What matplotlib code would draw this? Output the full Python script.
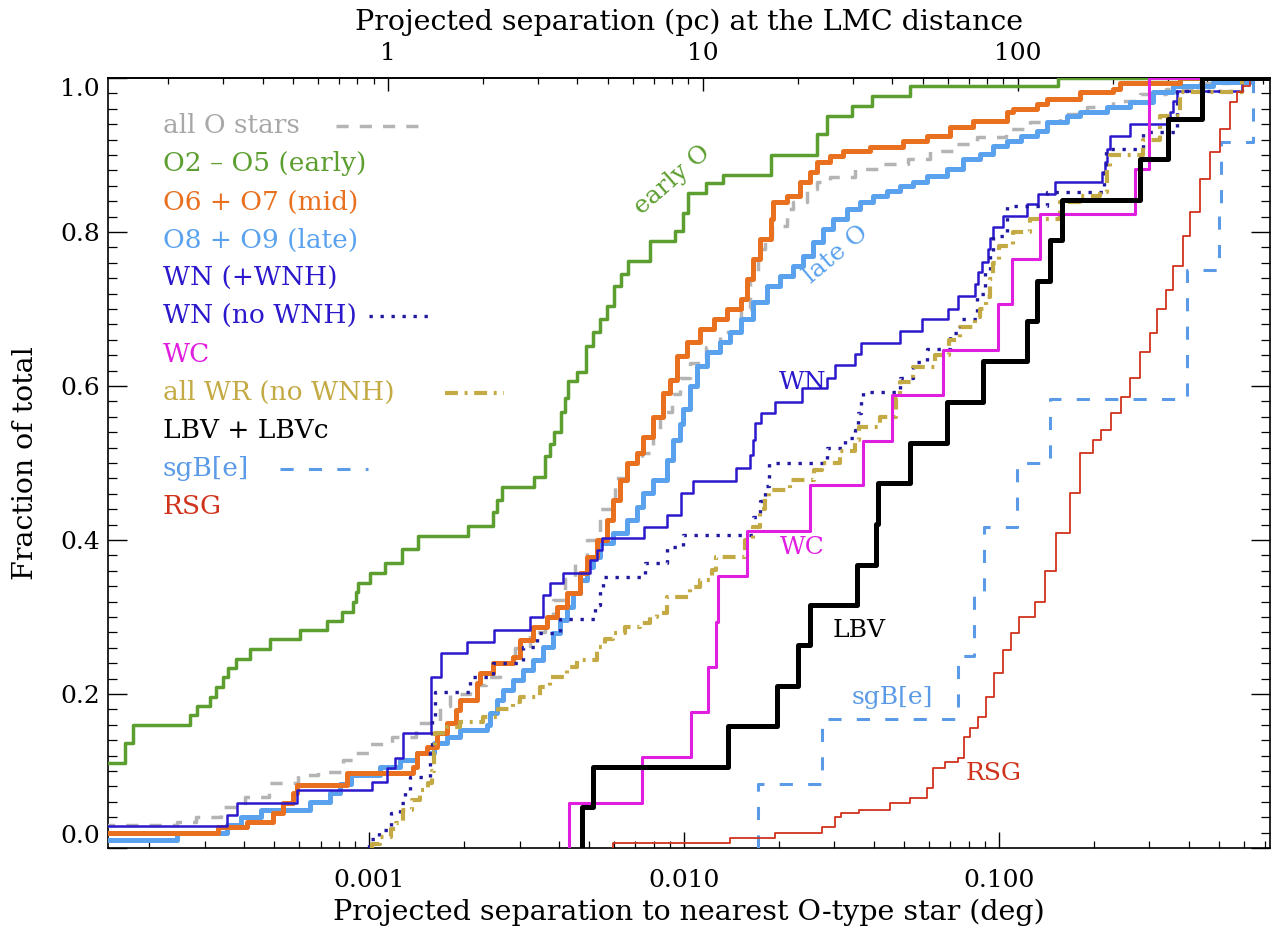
import numpy as np
import matplotlib.pyplot as plt
from matplotlib.ticker import FixedLocator, NullFormatter, FuncFormatter

plt.rcParams['font.family'] = ['DejaVu Serif']

# separation to nearest O star (deg) and cumulative fraction, per class
all_o_sep = [1.2e-4, 2.46e-4, 2.82e-4, 3.37e-4, 4.04e-4, 4.81e-4, 5.95e-4, 6.89e-4, 8.27e-4, 9.03e-4,
             1.007e-3, 1.18e-3, 1.41e-3, 1.68e-3, 1.81e-3, 2.09e-3, 2.34e-3, 2.61e-3, 2.91e-3, 3.24e-3,
             3.62e-3, 3.84e-3, 4.19e-3, 4.51e-3, 4.92e-3, 5.41e-3, 6.04e-3, 6.64e-3, 7.36e-3, 7.97e-3,
             8.39e-3, 9.16e-3, 9.71e-3, 1.04e-2, 1.17e-2, 1.30e-2, 1.51e-2, 1.62e-2, 1.71e-2, 1.81e-2,
             1.90e-2, 2.12e-2, 2.22e-2, 2.46e-2, 2.64e-2, 2.91e-2, 3.49e-2, 4.19e-2, 5.14e-2, 6.04e-2,
             7.14e-2, 8.51e-2, 0.105, 0.125, 0.156, 0.190, 0.230, 0.280, 0.339, 0.435, 0.541]
all_o_frac = [0.030, 0.034, 0.040, 0.053, 0.066, 0.084, 0.095, 0.099, 0.114, 0.123,
              0.135, 0.144, 0.162, 0.185, 0.200, 0.212, 0.222, 0.240, 0.260, 0.280,
              0.300, 0.322, 0.350, 0.370, 0.400, 0.440, 0.480, 0.500, 0.513, 0.540,
              0.566, 0.590, 0.610, 0.630, 0.650, 0.670, 0.700, 0.740, 0.778, 0.795,
              0.808, 0.830, 0.839, 0.856, 0.865, 0.871, 0.882, 0.888, 0.895, 0.905,
              0.914, 0.923, 0.934, 0.943, 0.953, 0.962, 0.970, 0.979, 0.986, 0.993, 1.0]

early_sep = [1.2e-4, 1.68e-4, 1.78e-4, 2.70e-4, 2.84e-4, 3.13e-4, 3.27e-4, 3.42e-4, 3.57e-4, 3.76e-4,
             4.19e-4, 4.85e-4, 6.04e-4, 7.36e-4, 8.21e-4, 8.89e-4, 9.10e-4, 9.23e-4, 1.007e-3, 1.12e-3,
             1.27e-3, 1.43e-3, 2.06e-3, 2.48e-3, 2.55e-3, 2.64e-3, 3.34e-3, 3.62e-3, 3.76e-3, 3.87e-3,
             4.07e-3, 4.19e-3, 4.28e-3, 4.57e-3, 4.89e-3, 5.14e-3, 5.41e-3, 5.70e-3, 6.00e-3, 6.31e-3,
             6.64e-3, 7.80e-3, 9.36e-3, 9.93e-3, 1.03e-2, 1.17e-2, 1.33e-2, 1.88e-2, 2.64e-2, 2.84e-2,
             3.42e-2, 3.95e-2, 5.22e-2, 0.154]
early_frac = [0.110, 0.136, 0.160, 0.173, 0.184, 0.196, 0.209, 0.222, 0.234, 0.245,
              0.258, 0.271, 0.283, 0.295, 0.306, 0.319, 0.332, 0.344, 0.357, 0.370,
              0.388, 0.405, 0.418, 0.436, 0.452, 0.469, 0.482, 0.509, 0.525, 0.540,
              0.566, 0.585, 0.606, 0.618, 0.652, 0.670, 0.687, 0.704, 0.730, 0.745,
              0.762, 0.788, 0.801, 0.825, 0.851, 0.864, 0.874, 0.900, 0.927, 0.950,
              0.964, 0.977, 0.990, 1.0]

mid_sep = [1.2e-4, 3.32e-4, 4.10e-4, 4.96e-4, 5.33e-4, 5.74e-4, 5.91e-4, 8.51e-4,
           1.38e-3, 1.42e-3, 1.53e-3, 1.64e-3, 1.77e-3, 1.88e-3, 1.94e-3, 2.20e-3, 2.25e-3, 2.48e-3,
           2.87e-3, 3.02e-3, 3.32e-3, 3.67e-3, 3.95e-3, 4.25e-3, 4.68e-3, 4.92e-3, 5.29e-3, 5.70e-3,
           5.95e-3, 6.26e-3, 6.59e-3, 7.09e-3, 7.41e-3, 7.97e-3, 8.58e-3, 9.03e-3, 9.50e-3, 1.02e-2,
           1.12e-2, 1.24e-2, 1.37e-2, 1.51e-2, 1.58e-2, 1.66e-2, 1.74e-2, 1.88e-2, 1.92e-2, 2.12e-2,
           2.34e-2, 2.51e-2, 2.64e-2, 2.91e-2, 3.20e-2, 3.89e-2, 4.96e-2, 5.91e-2, 6.99e-2, 8.27e-2,
           0.106, 0.111, 0.132, 0.142, 0.181, 0.230, 0.242, 0.376]
mid_frac = [0.019, 0.027, 0.034, 0.045, 0.058, 0.071, 0.082, 0.097,
            0.105, 0.123, 0.131, 0.149, 0.162, 0.179, 0.192, 0.214, 0.227, 0.240,
            0.248, 0.270, 0.287, 0.300, 0.313, 0.331, 0.357, 0.378, 0.400, 0.426,
            0.452, 0.478, 0.500, 0.513, 0.534, 0.560, 0.591, 0.608, 0.639, 0.657,
            0.674, 0.687, 0.700, 0.713, 0.739, 0.765, 0.791, 0.817, 0.839, 0.847,
            0.865, 0.878, 0.891, 0.899, 0.905, 0.910, 0.918, 0.925, 0.936, 0.944,
            0.956, 0.960, 0.966, 0.973, 0.982, 0.986, 0.994, 1.0]

late_sep = [1.2e-4, 2.46e-4, 3.54e-4, 3.92e-4, 4.54e-4, 6.50e-4, 7.52e-4, 8.09e-4, 8.77e-4, 1.08e-3,
            1.25e-3, 1.42e-3, 1.60e-3, 1.77e-3, 1.94e-3, 2.37e-3, 2.42e-3, 2.55e-3, 2.66e-3, 2.87e-3,
            3.08e-3, 3.32e-3, 3.57e-3, 3.84e-3, 4.04e-3, 4.25e-3, 4.44e-3, 4.68e-3, 4.92e-3, 5.14e-3,
            5.41e-3, 5.95e-3, 6.59e-3, 7.09e-3, 7.41e-3, 7.97e-3, 8.83e-3, 9.23e-3, 9.71e-3, 9.93e-3,
            1.04e-2, 1.10e-2, 1.18e-2, 1.30e-2, 1.40e-2, 1.51e-2, 1.66e-2, 1.83e-2, 2.02e-2, 2.22e-2,
            2.39e-2, 2.57e-2, 2.76e-2, 2.97e-2, 3.29e-2, 3.62e-2, 3.98e-2, 4.41e-2, 4.85e-2, 5.33e-2,
            5.91e-2, 6.84e-2, 7.69e-2, 8.71e-2, 9.57e-2, 0.106, 0.117, 0.132, 0.142, 0.164,
            0.181, 0.220, 0.261, 0.308, 0.357, 0.478, 0.626]
late_frac = [0.010, 0.019, 0.030, 0.040, 0.049, 0.060, 0.072, 0.083, 0.095, 0.105,
             0.114, 0.123, 0.136, 0.144, 0.153, 0.160, 0.175, 0.192, 0.205, 0.218,
             0.231, 0.244, 0.261, 0.279, 0.296, 0.313, 0.331, 0.348, 0.365, 0.378,
             0.396, 0.409, 0.426, 0.443, 0.461, 0.478, 0.504, 0.530, 0.550, 0.570,
             0.600, 0.626, 0.644, 0.657, 0.670, 0.687, 0.709, 0.730, 0.743, 0.756,
             0.769, 0.787, 0.804, 0.817, 0.830, 0.839, 0.847, 0.853, 0.860, 0.865,
             0.873, 0.882, 0.895, 0.901, 0.912, 0.918, 0.925, 0.931, 0.943, 0.951,
             0.956, 0.962, 0.969, 0.982, 0.990, 0.995, 1.0]

wn_sep = [1.2e-4, 3.54e-4, 3.81e-4, 5.91e-4, 1.02e-3, 1.14e-3, 1.21e-3, 1.28e-3, 1.57e-3, 1.69e-3,
          2.05e-3, 2.49e-3, 3.24e-3, 3.57e-3, 3.76e-3, 4.13e-3, 5.03e-3, 5.29e-3, 5.49e-3, 7.46e-3,
          8.83e-3, 9.78e-3, 1.07e-2, 1.46e-2, 1.62e-2, 1.66e-2, 1.68e-2, 1.75e-2, 1.94e-2, 2.37e-2,
          2.84e-2, 3.02e-2, 3.49e-2, 3.65e-2, 4.85e-2, 5.70e-2, 6.89e-2, 7.41e-2, 8.39e-2, 8.58e-2,
          8.83e-2, 9.23e-2, 9.36e-2, 9.57e-2, 0.103, 0.123, 0.133, 0.151, 0.212, 0.217,
          0.220, 0.225, 0.261, 0.341, 0.349, 0.357, 0.367, 0.591]
wn_frac = [0.029, 0.043, 0.058, 0.075, 0.086, 0.104, 0.117, 0.149, 0.222, 0.253,
           0.268, 0.283, 0.300, 0.329, 0.344, 0.357, 0.374, 0.387, 0.402, 0.417,
           0.432, 0.461, 0.476, 0.493, 0.510, 0.530, 0.552, 0.565, 0.579, 0.597,
           0.610, 0.627, 0.642, 0.656, 0.671, 0.687, 0.700, 0.717, 0.732, 0.748,
           0.761, 0.778, 0.792, 0.806, 0.821, 0.836, 0.849, 0.865, 0.878, 0.891,
           0.908, 0.925, 0.940, 0.949, 0.956, 0.970, 0.983, 1.0]

wn_nownh_sep = [1.00e-3, 1.07e-3, 1.17e-3, 1.25e-3, 1.30e-3, 1.35e-3, 1.56e-3, 1.58e-3, 1.62e-3, 2.09e-3,
                2.48e-3, 3.08e-3, 3.42e-3, 4.04e-3, 5.22e-3, 5.41e-3, 5.53e-3, 7.52e-3, 8.83e-3, 9.93e-3,
                1.66e-2, 1.74e-2, 1.81e-2, 1.86e-2, 2.84e-2, 3.24e-2, 3.49e-2, 3.57e-2, 3.65e-2, 3.70e-2,
                4.85e-2, 5.33e-2, 5.91e-2, 6.99e-2, 7.52e-2, 8.51e-2, 9.03e-2, 9.36e-2, 9.57e-2, 0.106,
                0.142, 0.215, 0.219, 0.287, 0.367, 0.591]
wn_nownh_frac = [0.012, 0.023, 0.045, 0.058, 0.075, 0.092, 0.130, 0.170, 0.203, 0.222,
                 0.240, 0.261, 0.279, 0.298, 0.315, 0.335, 0.352, 0.370, 0.391, 0.406,
                 0.430, 0.450, 0.470, 0.500, 0.520, 0.533, 0.543, 0.565, 0.582, 0.592,
                 0.610, 0.631, 0.648, 0.669, 0.687, 0.720, 0.748, 0.770, 0.795, 0.834,
                 0.852, 0.880, 0.908, 0.930, 0.983, 1.0]

wc_sep = [4.31e-3, 7.36e-3, 1.05e-2, 1.19e-2, 1.26e-2, 1.28e-2, 1.58e-2, 2.51e-2, 3.70e-2,
          4.57e-2, 6.64e-2, 9.93e-2, 0.110, 0.135, 0.270, 0.299, 0.300]
wc_frac = [0.059, 0.118, 0.176, 0.235, 0.294, 0.353, 0.412, 0.471, 0.529,
           0.588, 0.647, 0.706, 0.765, 0.824, 0.882, 0.941, 1.0]

all_wr_sep = [1.02e-3, 1.08e-3, 1.17e-3, 1.22e-3, 1.28e-3, 1.37e-3, 1.45e-3, 1.54e-3, 1.58e-3, 1.60e-3,
              1.62e-3, 1.77e-3, 1.94e-3, 2.30e-3, 2.57e-3, 2.87e-3, 3.02e-3, 3.49e-3, 3.76e-3, 4.25e-3,
              4.57e-3, 5.29e-3, 5.61e-3, 5.95e-3, 6.50e-3, 7.25e-3, 7.80e-3, 8.21e-3, 8.83e-3, 1.04e-2,
              1.12e-2, 1.23e-2, 1.26e-2, 1.56e-2, 1.66e-2, 1.74e-2, 1.81e-2, 1.86e-2, 2.17e-2, 2.59e-2,
              2.74e-2, 3.13e-2, 3.49e-2, 3.59e-2, 4.19e-2, 4.71e-2, 4.85e-2, 5.33e-2, 6.26e-2, 6.94e-2,
              7.52e-2, 8.39e-2, 8.71e-2, 9.10e-2, 9.36e-2, 9.57e-2, 0.100, 0.111, 0.125, 0.156,
              0.181, 0.209, 0.220, 0.225, 0.287, 0.324, 0.376, 0.591]
all_wr_frac = [0.005, 0.014, 0.025, 0.033, 0.050, 0.062, 0.075, 0.085, 0.100, 0.125,
               0.150, 0.157, 0.163, 0.170, 0.180, 0.190, 0.196, 0.209, 0.222, 0.235,
               0.244, 0.261, 0.272, 0.279, 0.287, 0.292, 0.300, 0.305, 0.326, 0.339,
               0.348, 0.361, 0.378, 0.400, 0.417, 0.440, 0.456, 0.465, 0.478, 0.491,
               0.500, 0.515, 0.530, 0.547, 0.560, 0.585, 0.605, 0.625, 0.640, 0.660,
               0.677, 0.690, 0.700, 0.715, 0.739, 0.760, 0.782, 0.800, 0.817, 0.839,
               0.847, 0.852, 0.880, 0.900, 0.920, 0.950, 0.982, 1.0]

lbv_sep = [4.74e-3, 5.14e-3, 1.38e-2, 1.97e-2, 2.30e-2, 2.51e-2, 3.54e-2, 4.07e-2, 4.13e-2, 5.22e-2,
           6.84e-2, 8.89e-2, 0.123, 0.132, 0.145, 0.158, 0.280, 0.344, 0.441]
lbv_frac = [0.053, 0.105, 0.158, 0.211, 0.263, 0.316, 0.368, 0.421, 0.474, 0.526,
            0.579, 0.632, 0.684, 0.737, 0.789, 0.842, 0.895, 0.947, 1.0]

sgbe_sep = [1.72e-2, 2.74e-2, 7.41e-2, 8.33e-2, 8.96e-2, 0.114, 0.145, 0.395, 0.396, 0.500, 0.505, 0.640]
sgbe_frac = [0.083, 0.167, 0.250, 0.333, 0.417, 0.500, 0.583, 0.667, 0.750, 0.833, 0.917, 1.0]

rsg_sep = [5.95e-3, 1.40e-2, 1.94e-2, 2.74e-2, 3.02e-2, 3.15e-2, 3.59e-2, 4.51e-2, 5.22e-2, 5.91e-2,
           6.17e-2, 6.74e-2, 7.41e-2, 7.74e-2, 8.09e-2, 8.58e-2, 9.10e-2, 9.64e-2, 0.103, 0.109,
           0.116, 0.130, 0.140, 0.152, 0.168, 0.181, 0.199, 0.211, 0.227, 0.244,
           0.261, 0.280, 0.301, 0.318, 0.339, 0.357, 0.384, 0.404, 0.435, 0.468,
           0.503, 0.541, 0.570, 0.595, 0.626]
rsg_frac = [0.006, 0.013, 0.020, 0.027, 0.040, 0.045, 0.050, 0.058, 0.065, 0.078,
            0.104, 0.112, 0.117, 0.144, 0.156, 0.170, 0.196, 0.227, 0.257, 0.279,
            0.300, 0.320, 0.360, 0.409, 0.461, 0.513, 0.530, 0.543, 0.565, 0.586,
            0.610, 0.644, 0.669, 0.700, 0.725, 0.756, 0.795, 0.826, 0.869, 0.904,
            0.934, 0.969, 0.982, 0.990, 1.0]

legend_labels = ['all O stars', 'O2 \u2013 O5 (early)', 'O6 + O7 (mid)', 'O8 + O9 (late)',
                 'WN (+WNH)', 'WN (no WNH)', 'WC', 'all WR (no WNH)', 'LBV + LBVc',
                 'sgB[e]', 'RSG']

XMIN, XMAX = 1.48e-4, 0.725
DEG_PER_PC = np.degrees(1.0 / 50000.0)   # LMC at 50 kpc

GRAY = '#b4b4b4'
GREEN = '#5c9e30'
ORANGE = '#e8701f'
LIGHTBLUE = '#5aa2ee'
BLUE = '#2b18cc'
NAVY = '#2018a0'
MAGENTA = '#e01ee0'
GOLD = '#c4aa45'
SGB = '#5a9ae6'
RED = '#d0331c'

DASH_ALL = (0, (3.5, 3.2))
DOTS = (0, (1, 2.3))
DASHDOT = (0, (3.1, 1.6, 0.7, 1.6))
DASH_SGB = (0, (4.3, 5.0))


def draw_cdf(ax, sep, frac, **kw):
    x = np.concatenate([[sep[0]], sep, [XMAX * 3]])
    y = np.concatenate([[0.0], frac, [frac[-1]]])
    ax.plot(x, y, drawstyle='steps-post', **kw)


fig = plt.figure(figsize=(12.72, 9.30), dpi=100)
ax = fig.add_axes([108 / 1272, 82 / 930, 1162 / 1272, 770 / 930])

draw_cdf(ax, all_o_sep, all_o_frac, color=GRAY, lw=2.5, ls=DASH_ALL, zorder=3)
draw_cdf(ax, late_sep, late_frac, color=LIGHTBLUE, lw=3.6, zorder=4)
draw_cdf(ax, mid_sep, mid_frac, color=ORANGE, lw=3.6, zorder=5)
draw_cdf(ax, early_sep, early_frac, color=GREEN, lw=2.5, zorder=5)
draw_cdf(ax, wn_sep, wn_frac, color=BLUE, lw=1.8, zorder=6)
draw_cdf(ax, wn_nownh_sep, wn_nownh_frac, color=NAVY, lw=2.4, ls=DOTS, zorder=6)
draw_cdf(ax, all_wr_sep, all_wr_frac, color=GOLD, lw=3.0, ls=DASHDOT, zorder=6)
draw_cdf(ax, wc_sep, wc_frac, color=MAGENTA, lw=2.2, zorder=7)
draw_cdf(ax, lbv_sep, lbv_frac, color='black', lw=3.6, zorder=8)
draw_cdf(ax, sgbe_sep, sgbe_frac, color=SGB, lw=2.2, ls=DASH_SGB, zorder=7)
draw_cdf(ax, rsg_sep, rsg_frac, color=RED, lw=1.3, zorder=7)

ax.set_xscale('log')
ax.set_xlim(XMIN, XMAX)
ax.set_ylim(0, 1)

# bottom axis: degrees
ax.xaxis.set_major_locator(FixedLocator([1e-3, 1e-2, 1e-1]))
ax.xaxis.set_major_formatter(FuncFormatter(lambda v, p: '%.3f' % v))
xminor = [k * 10.0 ** e for e in (-4, -3, -2, -1) for k in range(2, 10)]
ax.xaxis.set_minor_locator(FixedLocator(xminor))
ax.xaxis.set_minor_formatter(NullFormatter())
ax.tick_params(axis='x', which='major', direction='in', length=11.5, width=1.0,
               top=False, labelsize=18, pad=15)
ax.tick_params(axis='x', which='minor', direction='in', length=5, width=0.9, top=False)

# y axis, ticks on both sides
ax.yaxis.set_major_locator(FixedLocator(np.arange(0, 1.01, 0.2)))
ax.yaxis.set_major_formatter(FuncFormatter(lambda v, p: '%.1f' % v))
ax.yaxis.set_minor_locator(FixedLocator(np.arange(0, 1.001, 0.02)))
ax.tick_params(axis='y', which='major', direction='in', length=14, width=1.0,
               right=True, labelsize=18, pad=6)
ax.tick_params(axis='y', which='minor', direction='in', length=6.5, width=0.9, right=True)
for s in ax.spines.values():
    s.set_linewidth(1.2)

# top axis: parsec at the LMC distance
sec = ax.secondary_xaxis('top', functions=(lambda d: d / DEG_PER_PC, lambda p: p * DEG_PER_PC))
sec.xaxis.set_major_locator(FixedLocator([1, 10, 100]))
sec.xaxis.set_major_formatter(FuncFormatter(lambda v, p: '%g' % v))
pminor = [k * 10.0 ** e for e in (-1, 0, 1, 2) for k in range(2, 10)]
sec.xaxis.set_minor_locator(FixedLocator(pminor))
sec.xaxis.set_minor_formatter(NullFormatter())
sec.tick_params(which='major', direction='in', length=9.5, width=1.0, labelsize=18, pad=9)
sec.tick_params(which='minor', direction='in', length=4.5, width=0.9)
sec.spines['top'].set_linewidth(1.2)

fig.canvas.draw()
ylabels = ax.get_yticklabels()
ylabels[0].set_verticalalignment('bottom')
ylabels[-1].set_verticalalignment('top')

ax.set_xlabel('Projected separation to nearest O-type star (deg)', fontsize=20.5)
ax.xaxis.set_label_coords(0.5, -0.083)
ax.xaxis.label.set_verticalalignment('center')
ax.set_ylabel('Fraction of total', fontsize=20.5)
ax.yaxis.set_label_coords(-0.0706, 0.5)
ax.yaxis.label.set_verticalalignment('center')
ax.text(0.5, 1.0727, 'Projected separation (pc) at the LMC distance', transform=ax.transAxes,
        ha='center', va='center', fontsize=20.5)

# legend written as coloured text, with line samples after some entries
legend_colors = ['#a8a8a8', GREEN, ORANGE, LIGHTBLUE, BLUE, BLUE, MAGENTA, GOLD, 'black', SGB, RED]
row0, dy = 0.938, 0.0495
for i, (lab, col) in enumerate(zip(legend_labels, legend_colors)):
    ax.text(0.047, row0 - i * dy, lab, color=col, fontsize=19, transform=ax.transAxes,
            ha='left', va='center')
ax.plot([0.196, 0.269], [row0] * 2, transform=ax.transAxes, color=GRAY, lw=2.5, ls=DASH_ALL)
ax.plot([0.225, 0.277], [row0 - 5 * dy] * 2, transform=ax.transAxes, color=NAVY, lw=2.4, ls=DOTS)
ax.plot([0.290, 0.341], [row0 - 7 * dy] * 2, transform=ax.transAxes, color=GOLD, lw=3.0, ls=DASHDOT)
ax.plot([0.148, 0.224], [row0 - 9 * dy] * 2, transform=ax.transAxes, color=SGB, lw=2.2, ls=DASH_SGB)

# curve labels
ax.text(9.16e-3, 0.868, 'early O', color=GREEN, fontsize=18, rotation=41, ha='center', va='center')
ax.text(3.04e-2, 0.771, 'late O', color=LIGHTBLUE, fontsize=18, rotation=40, ha='center', va='center')
ax.text(2.37e-2, 0.605, 'WN', color=BLUE, fontsize=18, ha='center', va='center')
ax.text(2.37e-2, 0.390, 'WC', color=MAGENTA, fontsize=18, ha='center', va='center')
ax.text(3.59e-2, 0.283, 'LBV', color='black', fontsize=18, ha='center', va='center')
ax.text(4.57e-2, 0.195, 'sgB[e]', color=SGB, fontsize=18, ha='center', va='center')
ax.text(9.64e-2, 0.097, 'RSG', color=RED, fontsize=18, ha='center', va='center')

fig.savefig('out.png', dpi=100)
